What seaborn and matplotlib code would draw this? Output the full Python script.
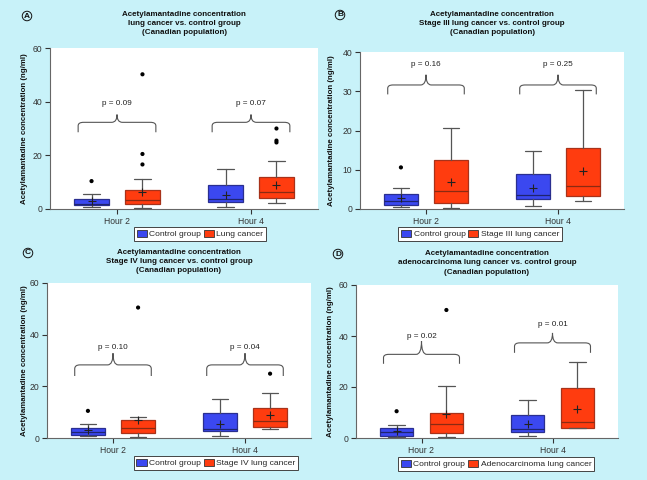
import matplotlib
matplotlib.use("Agg")
import matplotlib.pyplot as plt
import seaborn as sns
import pandas as pd
from matplotlib.path import Path
from matplotlib.patches import PathPatch, Patch

# ---------------- data ----------------
hours = ["Hour 2", "Hour 4"]
panel_letters = ["A", "B", "C", "D"]
case_labels = ["Lung cancer", "Stage III lung cancer", "Stage IV lung cancer",
               "Adenocarcinoma lung cancer"]
title_line2 = ["lung cancer vs. control group",
               "Stage III lung cancer vs. control group",
               "Stage IV lung cancer vs. control group",
               "adenocarcinoma lung cancer vs. control group"]
y_max = [60, 40, 60, 60]
y_ticks = [[0, 20, 40, 60], [0, 10, 20, 30, 40], [0, 20, 40, 60], [0, 20, 40, 60]]

# each row: [H2 control, H2 case, H4 control, H4 case]
whis_lo = [[0.7, 0.3, 0.8, 2.2], [0.5, 0.35, 0.85, 2.0],
           [0.6, 0.4, 0.8, 3.5], [0.4, 0.3, 0.8, 3.8]]
q1 = [[1.4, 1.9, 2.6, 4.0], [1.1, 1.5, 2.5, 3.2],
      [1.0, 1.8, 2.6, 4.1], [0.9, 2.0, 2.4, 3.8]]
median = [[1.8, 3.5, 3.7, 6.3], [2.0, 4.7, 3.6, 5.8],
          [2.3, 3.7, 3.6, 6.6], [2.2, 5.5, 3.7, 6.2]]
q3 = [[3.7, 7.0, 9.1, 12.0], [3.8, 12.5, 9.0, 15.6],
      [3.9, 6.8, 9.5, 11.7], [3.9, 9.8, 9.0, 19.7]]
whis_hi = [[5.5, 11.2, 14.9, 17.9], [5.25, 20.7, 14.9, 30.2],
           [5.4, 8.2, 15.0, 17.6], [5.2, 20.4, 14.8, 30.0]]
means = [[3.0, 6.3, 5.3, 9.1], [2.8, 6.8, 5.3, 9.7],
         [3.1, 7.0, 5.4, 8.9], [2.9, 9.5, 5.5, 11.2]]
fliers = [[[10.4], [16.6, 20.5, 50.2], [], [24.8, 25.5, 30.0]],
          [[10.6], [], [], []],
          [[10.5], [50.5], [], [24.9]],
          [[10.5], [50.2], [], []]]
p_values = [["p = 0.09", "p = 0.07"], ["p = 0.16", "p = 0.25"],
            ["p = 0.10", "p = 0.04"], ["p = 0.02", "p = 0.01"]]
# brace heights per hour: (tips, bar, peak, text)
brace_y = [[(28.6, 32.3, 35.2, 39.5), (28.6, 32.3, 35.2, 39.5)],
           [(29.2, 31.6, 34.2, 36.7), (29.2, 31.6, 34.2, 36.7)],
           [(24.0, 28.3, 32.8, 35.1), (24.0, 28.3, 32.8, 35.1)],
           [(29.1, 32.8, 38.0, 40.0), (33.4, 37.3, 41.2, 44.6)]]

# ---------------- style ----------------
BG = "#c8f2f9"
BLUE = "#3b48f0"
RED = "#ff3c0f"
sns.set_style("ticks")
plt.rcParams["font.family"] = ["Liberation Sans", "DejaVu Sans"]
plt.rcParams["axes.linewidth"] = 0.8

W, H = 647, 480
fig = plt.figure(figsize=(W / 100, H / 100), dpi=100, facecolor=BG)

# axes rectangles in pixels (left, right, top, bottom)
rects = [(50, 318, 48, 209), (360, 624, 52, 209), (47, 311, 283, 438), (356, 618, 285, 438)]
title_top = [11, 11, 249, 250]
letter_pos = [(27, 16), (340, 15), (28, 253), (338, 254)]
ylabel_x = [28, 335, 28, 334]
legend_pos = [(200, 227), (480, 227), (216, 456), (496, 457)]

OFF = 0.19
BW = 0.255


def brace(ax, xc, half, y_tip, y_bar, y_peak):
    x0, x1 = xc - half, xc + half
    r = 0.04
    dy = (y_bar - y_tip) * 0.35
    verts = [(x0, y_tip), (x0, y_bar - dy), (x0, y_bar), (x0 + r, y_bar),
             (xc - r, y_bar), (xc, y_bar), (xc, y_peak),
             (xc, y_bar), (xc + r, y_bar),
             (x1 - r, y_bar), (x1, y_bar), (x1, y_bar - dy), (x1, y_tip)]
    codes = [Path.MOVETO, Path.LINETO, Path.CURVE3, Path.CURVE3,
             Path.LINETO, Path.CURVE3, Path.CURVE3,
             Path.CURVE3, Path.CURVE3,
             Path.LINETO, Path.CURVE3, Path.CURVE3, Path.LINETO]
    ax.add_patch(PathPatch(Path(verts, codes), fc="none", ec="#555555", lw=0.8))


for i in range(4):
    l, r, t, b = rects[i]
    ax = fig.add_axes([l / W, 1 - b / H, (r - l) / W, (b - t) / H])
    ax.set_facecolor("white")

    stats = []
    positions = []
    colors = []
    for j in range(4):
        hour = j // 2
        pos = hour + (-OFF if j % 2 == 0 else OFF)
        positions.append(pos)
        colors.append(BLUE if j % 2 == 0 else RED)
        stats.append(dict(whislo=whis_lo[i][j], q1=q1[i][j], med=median[i][j],
                          q3=q3[i][j], whishi=whis_hi[i][j], fliers=[],
                          mean=means[i][j]))
    bp = ax.bxp(stats, positions=positions, widths=BW, patch_artist=True,
                showfliers=False, showmeans=False, manage_ticks=False,
                whiskerprops=dict(color="#555555", lw=0.9),
                capprops=dict(color="#555555", lw=0.9),
                medianprops=dict(lw=0.9))
    for k, box in enumerate(bp["boxes"]):
        box.set_facecolor(colors[k])
        box.set_edgecolor("#2a2f90" if k % 2 == 0 else "#a8321a")
        box.set_linewidth(0.9)
        bp["medians"][k].set_color("#1e2470" if k % 2 == 0 else "#8a2a12")

    # means and outliers via seaborn
    mean_df = pd.DataFrame({"x": positions, "y": means[i]})
    sns.scatterplot(data=mean_df, x="x", y="y", marker="+", s=30, color="#222222",
                    linewidth=0.8, ax=ax, zorder=5)
    fx, fy = [], []
    for j in range(4):
        for v in fliers[i][j]:
            fx.append(positions[j])
            fy.append(v)
    if fx:
        sns.scatterplot(data=pd.DataFrame({"x": fx, "y": fy}), x="x", y="y",
                        marker="o", s=9, color="black", edgecolor="none", ax=ax, zorder=5)

    # braces
    for h in range(2):
        yt, yb, yp, ytx = brace_y[i][h]
        brace(ax, h, 0.29, yt, yb, yp)
        ax.text(h, ytx, p_values[i][h], ha="center", va="center", fontsize=5.9,
                color="#222222")

    ax.set_xlim(-0.5, 1.5)
    ax.set_ylim(0, y_max[i])
    ax.set_xticks([0, 1])
    ax.set_xticklabels(hours)
    ax.set_yticks(y_ticks[i])
    ax.set_xlabel("")
    ax.set_ylabel("Acetylamantadine concentration (ng/ml)", fontsize=5.7,
                  fontweight="bold", color="#111111")
    ax.yaxis.set_label_coords((ylabel_x[i] - l) / (r - l), 0.5)
    ax.tick_params(labelsize=6.2, colors="#333333", length=3.5, width=0.8, pad=2)
    for s in ["left", "bottom"]:
        ax.spines[s].set_color("#666666")
    sns.despine(ax=ax)

    cx = (l + r) / 2
    fig.text(cx / W, 1 - title_top[i] / H,
             "Acetylamantadine concentration\n" + title_line2[i] + "\n(Canadian population)",
             ha="center", va="top", fontsize=5.8, fontweight="bold", color="#111111",
             linespacing=1.45)
    lx, ly = letter_pos[i]
    fig.text(lx / W, 1 - ly / H, panel_letters[i], ha="center", va="center",
             fontsize=6, fontweight="bold", color="#111111",
             bbox=dict(boxstyle="circle,pad=0.15", fc="none", ec="#111111", lw=0.7))

    handles = [Patch(fc=BLUE, ec="#333333", lw=0.6, label="Control group"),
               Patch(fc=RED, ec="#333333", lw=0.6, label=case_labels[i])]
    gx, gy = legend_pos[i]
    leg = fig.legend(handles=handles, loc="upper center",
                     bbox_to_anchor=(gx / W, 1 - gy / H), ncol=2, fontsize=6.1,
                     frameon=True, fancybox=False, handlelength=1.2, handleheight=1.0,
                     handletextpad=0.3, columnspacing=0.3, borderpad=0.3,
                     borderaxespad=0)
    leg.get_frame().set_edgecolor("#444444")
    leg.get_frame().set_linewidth(0.7)
    leg.get_frame().set_facecolor("white")
    leg.get_frame().set_alpha(1)

fig.savefig("out.png", dpi=100, facecolor=BG)
